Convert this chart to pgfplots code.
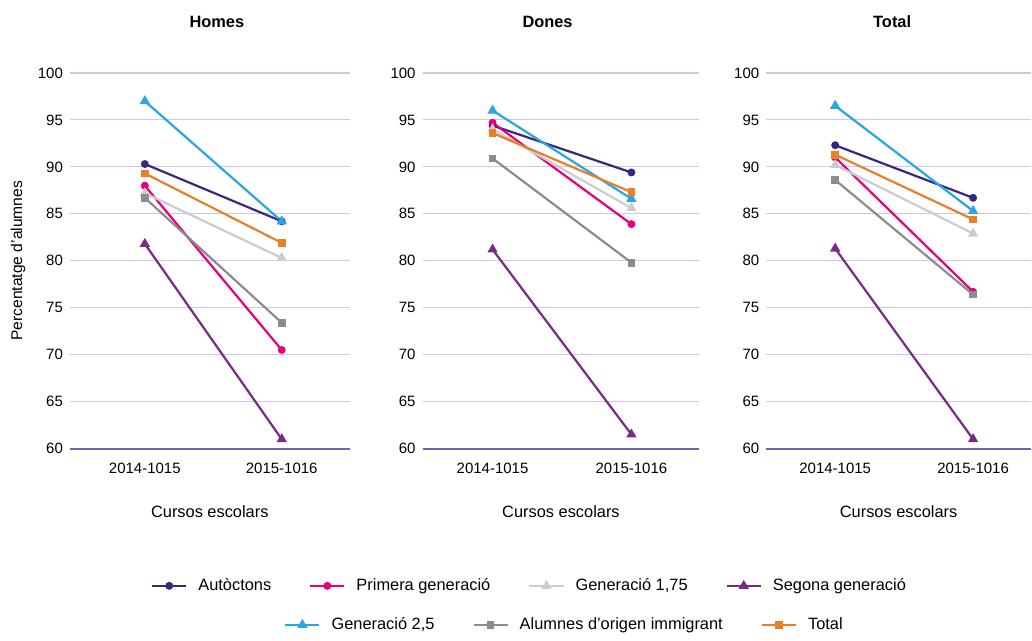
\documentclass[border=0pt]{standalone}
\usepackage{fontspec}
\setmainfont{Liberation Sans}
\usepackage{pgfplots}
\usepackage{pgfplotstable}
\pgfplotsset{compat=1.18}

\definecolor{caut}{HTML}{35287F}
\definecolor{cprim}{HTML}{E6007E}
\definecolor{cgA}{HTML}{CCCCCC}
\definecolor{cseg}{HTML}{7A2A86}
\definecolor{cgB}{HTML}{29A6DF}
\definecolor{cimm}{HTML}{8C8C8C}
\definecolor{ctot}{HTML}{E8802A}
\definecolor{cgrid}{HTML}{CEC8E6}
\definecolor{cbase}{HTML}{6F62B2}

% x: 0 = 2014-1015, 1 = 2015-1016
\pgfplotstableread{
x aut prim gA seg gB imm tot
0 90.3 88.0 87.2 81.8 97.0 86.7 89.3
1 84.2 70.5 80.3 61.0 84.2 73.4 81.9
}\homes
\pgfplotstableread{
x aut prim gA seg gB imm tot
0 94.4 94.7 94.0 81.2 96.0 90.9 93.6
1 89.4 83.9 85.6 61.5 86.6 79.8 87.3
}\dones
\pgfplotstableread{
x aut prim gA seg gB imm tot
0 92.3 91.0 90.2 81.3 96.5 88.6 91.3
1 86.7 76.7 82.9 61.0 85.3 76.4 84.4
}\total

\newcommand\fs{\fontsize{7.5}{9}\selectfont}
\newcommand\fl{\fontsize{8.2}{10}\selectfont}

\pgfplotsset{
  panel/.style={
    scale only axis, height=188pt, anchor=south west,
    ymin=60, ymax=100, ytick={60,65,...,100},
    xtick={0,1}, xticklabels={2014-1015,2015-1016},
    axis x line*=bottom, axis y line*=left,
    x axis line style={draw=cbase, line width=1pt, -},
    y axis line style={draw=none},
    major tick length=0pt,
    ymajorgrids, grid style={cgrid, line width=0.6pt},
    tick label style={font=\fs},
    xticklabel style={yshift=-3.5pt},
    /pgf/number format/assume math mode=true,
    label style={font=\fl},
    xlabel={Cursos escolars},
    xlabel style={at={(rel axis cs:0.5,0)}, anchor=center, yshift=-31.5pt},
    clip=false,
  },
  saut/.style={color=caut, line width=1.1pt, mark=*, mark size=1.4pt},
  sprim/.style={color=cprim, line width=1.1pt, mark=*, mark size=1.4pt},
  sgA/.style={color=cgA, line width=1.1pt, mark=triangle*, mark size=1.9pt},
  sseg/.style={color=cseg, line width=1.1pt, mark=triangle*, mark size=1.9pt},
  sgB/.style={color=cgB, line width=1.1pt, mark=triangle*, mark size=1.9pt},
  simm/.style={color=cimm, line width=1.1pt, mark=square*, mark size=1.4pt},
  stot/.style={color=ctot, line width=1.1pt, mark=square*, mark size=1.4pt},
  legaxis/.style={
    scale only axis, width=516pt, height=317pt, anchor=south west, at={(0pt,0pt)},
    hide axis, xmin=0, xmax=1, ymin=0, ymax=1,
    legend style={draw=none, fill=none, font=\fl, anchor=center,
      /tikz/every odd column/.append style={column sep=3.5pt},
      /tikz/every even column/.append style={column sep=17pt}},
  },
}

\newcommand\series[1]{%
  \addplot[saut] table[x=x, y=aut] {#1};
  \addplot[sprim] table[x=x, y=prim] {#1};
  \addplot[sgA] table[x=x, y=gA] {#1};
  \addplot[sseg] table[x=x, y=seg] {#1};
  \addplot[sgB] table[x=x, y=gB] {#1};
  \addplot[simm] table[x=x, y=imm] {#1};
  \addplot[stot] table[x=x, y=tot] {#1};
}

\begin{document}
\begin{tikzpicture}
\path (0pt,0pt) rectangle (516pt,317pt);

\begin{axis}[panel, at={(35pt,92.5pt)}, width=140pt, xmin=-0.547, xmax=1.496,
  ylabel={Percentatge d’alumnes},
  ylabel style={at={(rel axis cs:0,0.5)}, anchor=center, yshift=26pt, font=\fontsize{7.8}{9}\selectfont}]
\series{\homes}
\node[font=\fl\bfseries] at (axis cs:0.526,100) [yshift=25.5pt] {Homes};
\end{axis}

\begin{axis}[panel, at={(211.5pt,92.5pt)}, width=138.5pt, xmin=-0.504, xmax=1.489]
\series{\dones}
\node[font=\fl\bfseries] at (axis cs:0.396,100) [yshift=25.5pt] {Dones};
\end{axis}

\begin{axis}[panel, at={(383.5pt,92.5pt)}, width=132.5pt, xmin=-0.5, xmax=1.42]
\series{\total}
\node[font=\fl\bfseries] at (axis cs:0.413,100) [yshift=25.5pt] {Total};
\end{axis}

\begin{axis}[legaxis, legend columns=4,
  legend style={at={(265.5/516,23.8/317)}}]
\addlegendimage{saut}\addlegendentry{Autòctons}
\addlegendimage{sprim}\addlegendentry{Primera generació}
\addlegendimage{sgA}\addlegendentry{Generació 1,75}
\addlegendimage{sseg}\addlegendentry{Segona generació}
\end{axis}

\begin{axis}[legaxis, legend columns=3,
  legend style={at={(283/516,4.3/317)}}]
\addlegendimage{sgB}\addlegendentry{Generació 2,5}
\addlegendimage{simm}\addlegendentry{Alumnes d’origen immigrant}
\addlegendimage{stot}\addlegendentry{Total}
\end{axis}
\end{tikzpicture}
\end{document}
